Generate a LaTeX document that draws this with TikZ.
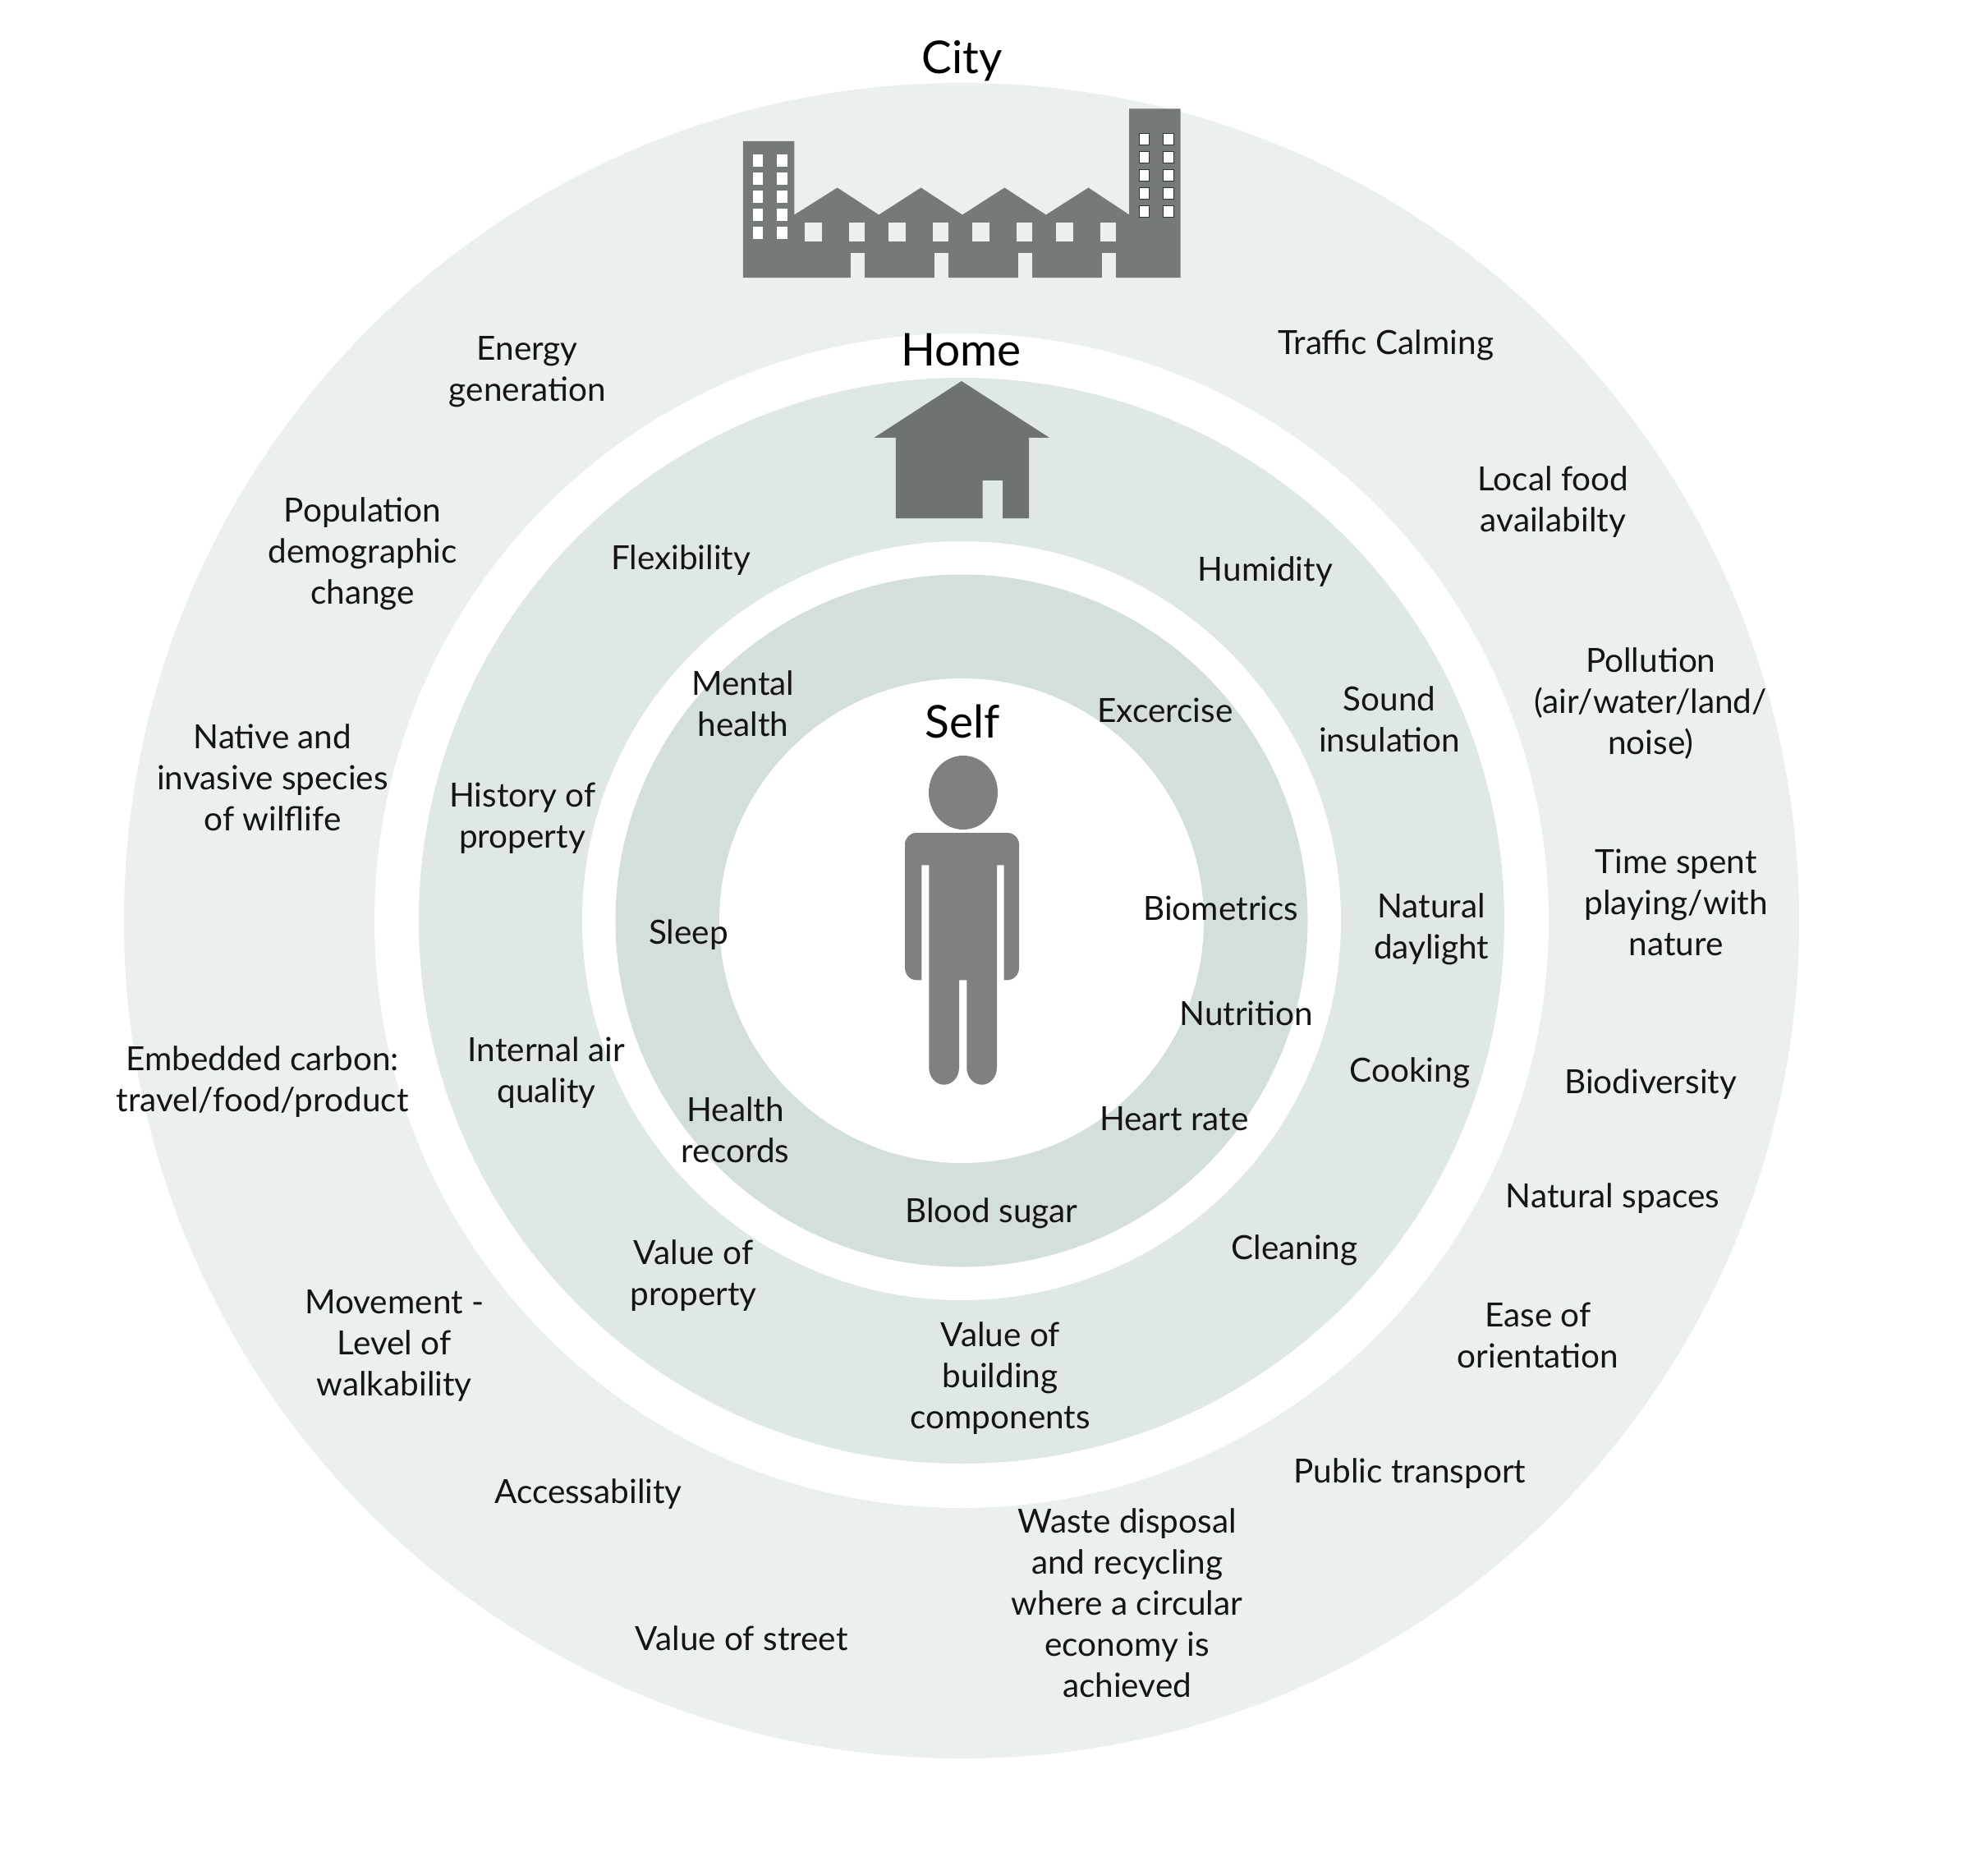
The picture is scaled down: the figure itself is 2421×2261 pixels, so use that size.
\documentclass[tikz,border=0pt]{standalone}
\usepackage{fontspec}
\setmainfont{Lato}
\definecolor{ringcity}{HTML}{EBF0EC}
\definecolor{ringhome}{HTML}{DFE8E2}
\definecolor{ringself}{HTML}{D5DFD9}
\definecolor{cityg}{HTML}{767A76}
\definecolor{homeg}{HTML}{6E736F}
\definecolor{persong}{HTML}{808080}
\tikzset{
  lab/.style={align=center,inner sep=0pt,font=\fontsize{40.5}{50}\selectfont,text=black!92},
  title/.style={align=center,inner sep=0pt,font=\fontsize{55}{60}\selectfont,text=black},
  towerwin/.style={fill=white},
}
\begin{document}
\begin{tikzpicture}[x=1pt,y=-1pt]
\useasboundingbox (0,0) rectangle (2421,2261);
\fill[white] (0,0) rectangle (2421,2261);
% rings
\fill[ringcity] (1171,1121) circle[radius=1020];
\fill[white] (1171,1121) circle[radius=715];
\fill[ringhome] (1171,1121) circle[radius=661];
\fill[white] (1171,1121) circle[radius=462];
\fill[ringself] (1171,1121) circle[radius=421.5];
\fill[white] (1171,1121) circle[radius=295];
% city
\fill[cityg] (904.9,172) -- (967.3,172) -- (967.3,261.5) -- (1019.7,228.5) -- (1070.2,261.5)
  -- (1121.5,228.5) -- (1172,261.5) -- (1223.3,228.5) -- (1273.8,261.5) -- (1325.5,228.5)
  -- (1375.2,261.5) -- (1375.2,132.4) -- (1437.6,132.4) -- (1437.6,338) -- (904.9,338) -- cycle;
\foreach \x in {1036.1,1138.3,1240.1,1342.3}
  \fill[ringcity] (\x,308) rectangle (\x+17,338.5);
\foreach \x in {979.9,1082,1183.9,1285.8}
  \fill[ringcity] (\x,270.8) rectangle (\x+21,293.5);
\foreach \x in {1033.8,1136,1238.2,1340}
  \fill[ringcity] (\x,270.8) rectangle (\x+19.1,293.5);
\foreach \i in {0,...,4}{
  \fill[towerwin] (917.1,188.2+22.04*\i) rectangle (929.4,202.6+22.04*\i);
  \fill[towerwin] (945.8,188.2+22.04*\i) rectangle (958.8,202.6+22.04*\i);
  \filldraw[towerwin,draw=black!80,line width=1pt] (1387.1,162.7+22.04*\i) rectangle (1399.7,176.8+22.04*\i);
  \filldraw[towerwin,draw=black!80,line width=1pt] (1416.5,162.7+22.04*\i) rectangle (1429.6,176.8+22.04*\i);
}
% house
\fill[homeg] (1170.9,464) -- (1278,532.9) -- (1253.1,532.9) -- (1253.1,631) -- (1221,631) -- (1221,584.9)
  -- (1196.5,584.9) -- (1196.5,631) -- (1090.9,631) -- (1090.9,532.9) -- (1064.5,532.9) -- cycle;
% person
\fill[persong] (1173,965) ellipse[x radius=42,y radius=45];
\fill[persong] (1122.3,1053.3) -- (1122.3,1193.3) -- (1116,1193.3)
  arc[start angle=90,end angle=180,x radius=14,y radius=15] -- (1102,1028)
  arc[start angle=180,end angle=270,x radius=14,y radius=14] -- (1227,1014)
  arc[start angle=270,end angle=360,x radius=14,y radius=14] -- (1241,1178.3)
  arc[start angle=0,end angle=90,x radius=14,y radius=15] -- (1222.7,1193.3) -- (1222.7,1053.3) -- cycle;
\fill[persong] (1131.3,1040) -- (1214,1040) -- (1214,1300) arc[start angle=0,end angle=180,x radius=18.35,y radius=20.7]
  -- (1177.3,1193.3) -- (1168,1193.3) -- (1168,1300) arc[start angle=0,end angle=180,x radius=18.35,y radius=20.7] -- cycle;
% labels
\begin{scope}[x=1.544pt,y=-1.544pt]
\node[title] (city) at (759,48) {City};
\node[title] (home) at (758,276) {Home};
\node[title] (self) at (759,569) {Self};
\node[lab] (n1) at (416,293) {Energy\\generation};
\node[lab] (n2) at (286,437) {Population\\demographic\\change};
\node[lab] (n3) at (215,613) {Native and\\invasive species\\of wilflife};
\node[lab] (n4) at (207,853) {Embedded carbon:\\travel/food/product};
\node[lab] (n5) at (311,1061) {Movement -\\Level of\\walkability};
\node[lab] (n6) at (464,1178) {Accessability};
\node[lab] (n7) at (585,1292) {Value of street};
\node[lab] (n8) at (889,1264) {Waste disposal\\and recycling\\where a circular\\economy is\\achieved};
\node[lab] (n9) at (1112,1162) {Public transport};
\node[lab] (n10) at (1213,1053) {Ease of\\orientation};
\node[lab] (n11) at (1272,945) {Natural spaces};
\node[lab] (n12) at (1302,855) {Biodiversity};
\node[lab] (n13) at (1322,712) {Time spent\\playing/with\\nature};
\node[lab] (n14) at (1302,555) {Pollution\\(air/water/land/\\noise)};
\node[lab] (n15) at (1225,396) {Local food\\availabilty};
\node[lab] (n16) at (1093,272) {Traffic Calming};
\node[lab] (h1) at (537,442) {Flexibility};
\node[lab] (h2) at (412,645) {History of\\property};
\node[lab] (h3) at (431,846) {Internal air\\quality};
\node[lab] (h4) at (547,1006) {Value of\\property};
\node[lab] (h5) at (789,1087) {Value of\\building\\components};
\node[lab] (h6) at (1021,986) {Cleaning};
\node[lab] (h7) at (1112,846) {Cooking};
\node[lab] (h8) at (1129,733) {Natural\\daylight};
\node[lab] (h9) at (1096,567) {Sound\\insulation};
\node[lab] (h10) at (998,451) {Humidity};
\node[lab] (s1) at (586,555) {Mental\\health};
\node[lab] (s2) at (543,737) {Sleep};
\node[lab] (s3) at (580,891) {Health\\records};
\node[lab] (s4) at (782,957) {Blood sugar};
\node[lab] (s5) at (926,882) {Heart rate};
\node[lab] (s6) at (983,799) {Nutrition};
\node[lab] (s7) at (963,716) {Biometrics};
\node[lab] (s8) at (919,560) {Excercise};
\end{scope}
\end{tikzpicture}
\end{document}
